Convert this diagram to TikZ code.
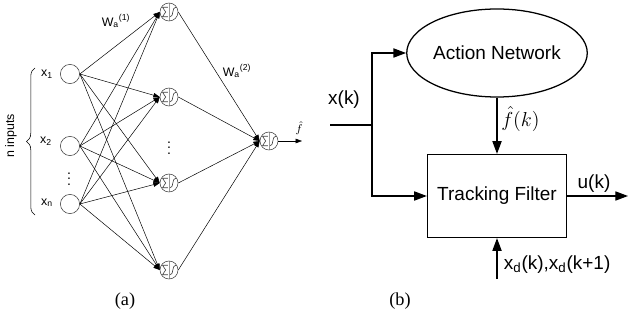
\documentclass[tikz,border=0pt]{standalone}
\usepackage{fontspec}
\setmainfont{Liberation Sans}
\newfontfamily\capfont{Liberation Serif}
\usepackage{tikz}
\usetikzlibrary{positioning, arrows.meta, shapes.geometric, decorations.pathreplacing}

\begin{document}
\begin{tikzpicture}[
  x=0.025cm, y=-0.025cm,
  inp/.style={circle, draw=black!75, line width=0.4pt, minimum size=0.48cm, inner sep=0pt},
  neuron/.style={circle, draw=black!75, line width=0.4pt, minimum size=0.45cm, inner sep=0pt,
    path picture={
      \draw[black!40, line width=0.3pt] (path picture bounding box.north) -- (path picture bounding box.south);
      \begin{scope}[shift={(path picture bounding box.center)}, x=1pt, y=1pt, line width=0.45pt]
        \draw (-0.8,3.4) -- (-4.6,3.4) -- (-2.4,0) -- (-4.6,-3.4) -- (-0.8,-3.4);
        \draw (0.8,-3.4) .. controls (3.6,-3.4) and (1.8,3.4) .. (4.8,3.4);
      \end{scope}}},
  wire/.style={line width=0.35pt, -{Triangle[length=4.5pt, width=3.2pt]}},
  lbl/.style={font=\fontsize{8.8}{10}\selectfont},
  vdot/.style={font=\fontsize{10}{12}\selectfont, inner sep=0pt},
  block/.style={draw, line width=0.9pt, font=\fontsize{13.5}{16}\selectfont},
  sig/.style={line width=0.9pt, -{Triangle[length=9pt, width=6.5pt]}},
  txt/.style={font=\fontsize{13.5}{16}\selectfont},
  captext/.style={font=\capfont\fontsize{13}{15}\selectfont}
]
\useasboundingbox (0,0) rectangle (629,320);

% network: inputs, hidden layer, output
\node[inp] (x1) at (70,74) {};
\node[inp] (x2) at (70,146) {};
\node[inp] (xn) at (70,204) {};
\node[lbl] (lx1) at (47,74) {x\textsubscript{1}};
\node[lbl] (lx2) at (46,141) {x\textsubscript{2}};
\node[lbl] (lxn) at (47,203) {x\textsubscript{n}};
\node[vdot] (vin) at (69,175) {$\vdots$};

\node[neuron] (h1) at (169,12) {};
\node[neuron] (h2) at (169,97) {};
\node[neuron] (h3) at (169,183) {};
\node[neuron] (h4) at (169,270) {};
\node[vdot] (vhid) at (169,144) {$\vdots$};
\node[neuron] (out) at (269,141) {};
\coordinate (fout) at (302,141);

\foreach \i in {x1,x2,xn}
  \foreach \j in {h1,h2,h3,h4}
    \draw[wire] (\i.east) -- (\j.west);
\foreach \j in {h1,h2,h3,h4}
  \draw[wire] (\j.east) -- (out.west);
\draw[wire] (out.east) -- (fout);

\node[lbl] (w1) at (116,21) {W\textsubscript{a}\textsuperscript{(1)}};
\node[lbl] (w2) at (237,71) {W\textsubscript{a}\textsuperscript{(2)}};
\node[font=\fontsize{8}{9}\selectfont] (fhat) at (299,128) {$\hat f$};

\coordinate (bt) at (35,215);
\coordinate (bb) at (35,68);
\draw[line width=0.4pt, decorate, decoration={brace, amplitude=6pt}] (bt) -- (bb);
\node[lbl, rotate=90] (ninp) at (11,136) {n inputs};

% controller loop
\node[block, ellipse, minimum width=3.75cm, minimum height=2.2cm, inner sep=0pt] (act) at (497,53) {Action Network};
\node[block, rectangle, minimum width=3.475cm, minimum height=2.075cm] (trk) at (497,196) {Tracking Filter};

\coordinate (xin) at (330,125);
\coordinate (jn) at (372,125);
\coordinate (uout) at (628,196);
\coordinate (xdin) at (497,279);

\draw[line width=0.9pt] (xin) -- (jn);
\draw[sig] (jn) |- (act.west);
\draw[sig] (jn) |- (trk.west);
\draw[sig] (act.south) -- (trk.north);
\draw[sig] (trk.east) -- (uout);
\draw[sig] (xdin) -- (trk.south);

\node[txt] (lxk) at (344,100) {x(k)};
\node[font=\fontsize{15}{17}\selectfont, anchor=west, inner sep=0pt] (lfk) at (501,119) {$\hat f(k)$};
\node[txt] (luk) at (594,184) {u(k)};
\node[txt, anchor=west] (lxd) at (499,265) {x\textsubscript{d}(k),x\textsubscript{d}(k+1)};

\node[captext] (capa) at (125,301) {(a)};
\node[captext] (capb) at (400,301) {(b)};
\end{tikzpicture}
\end{document}
